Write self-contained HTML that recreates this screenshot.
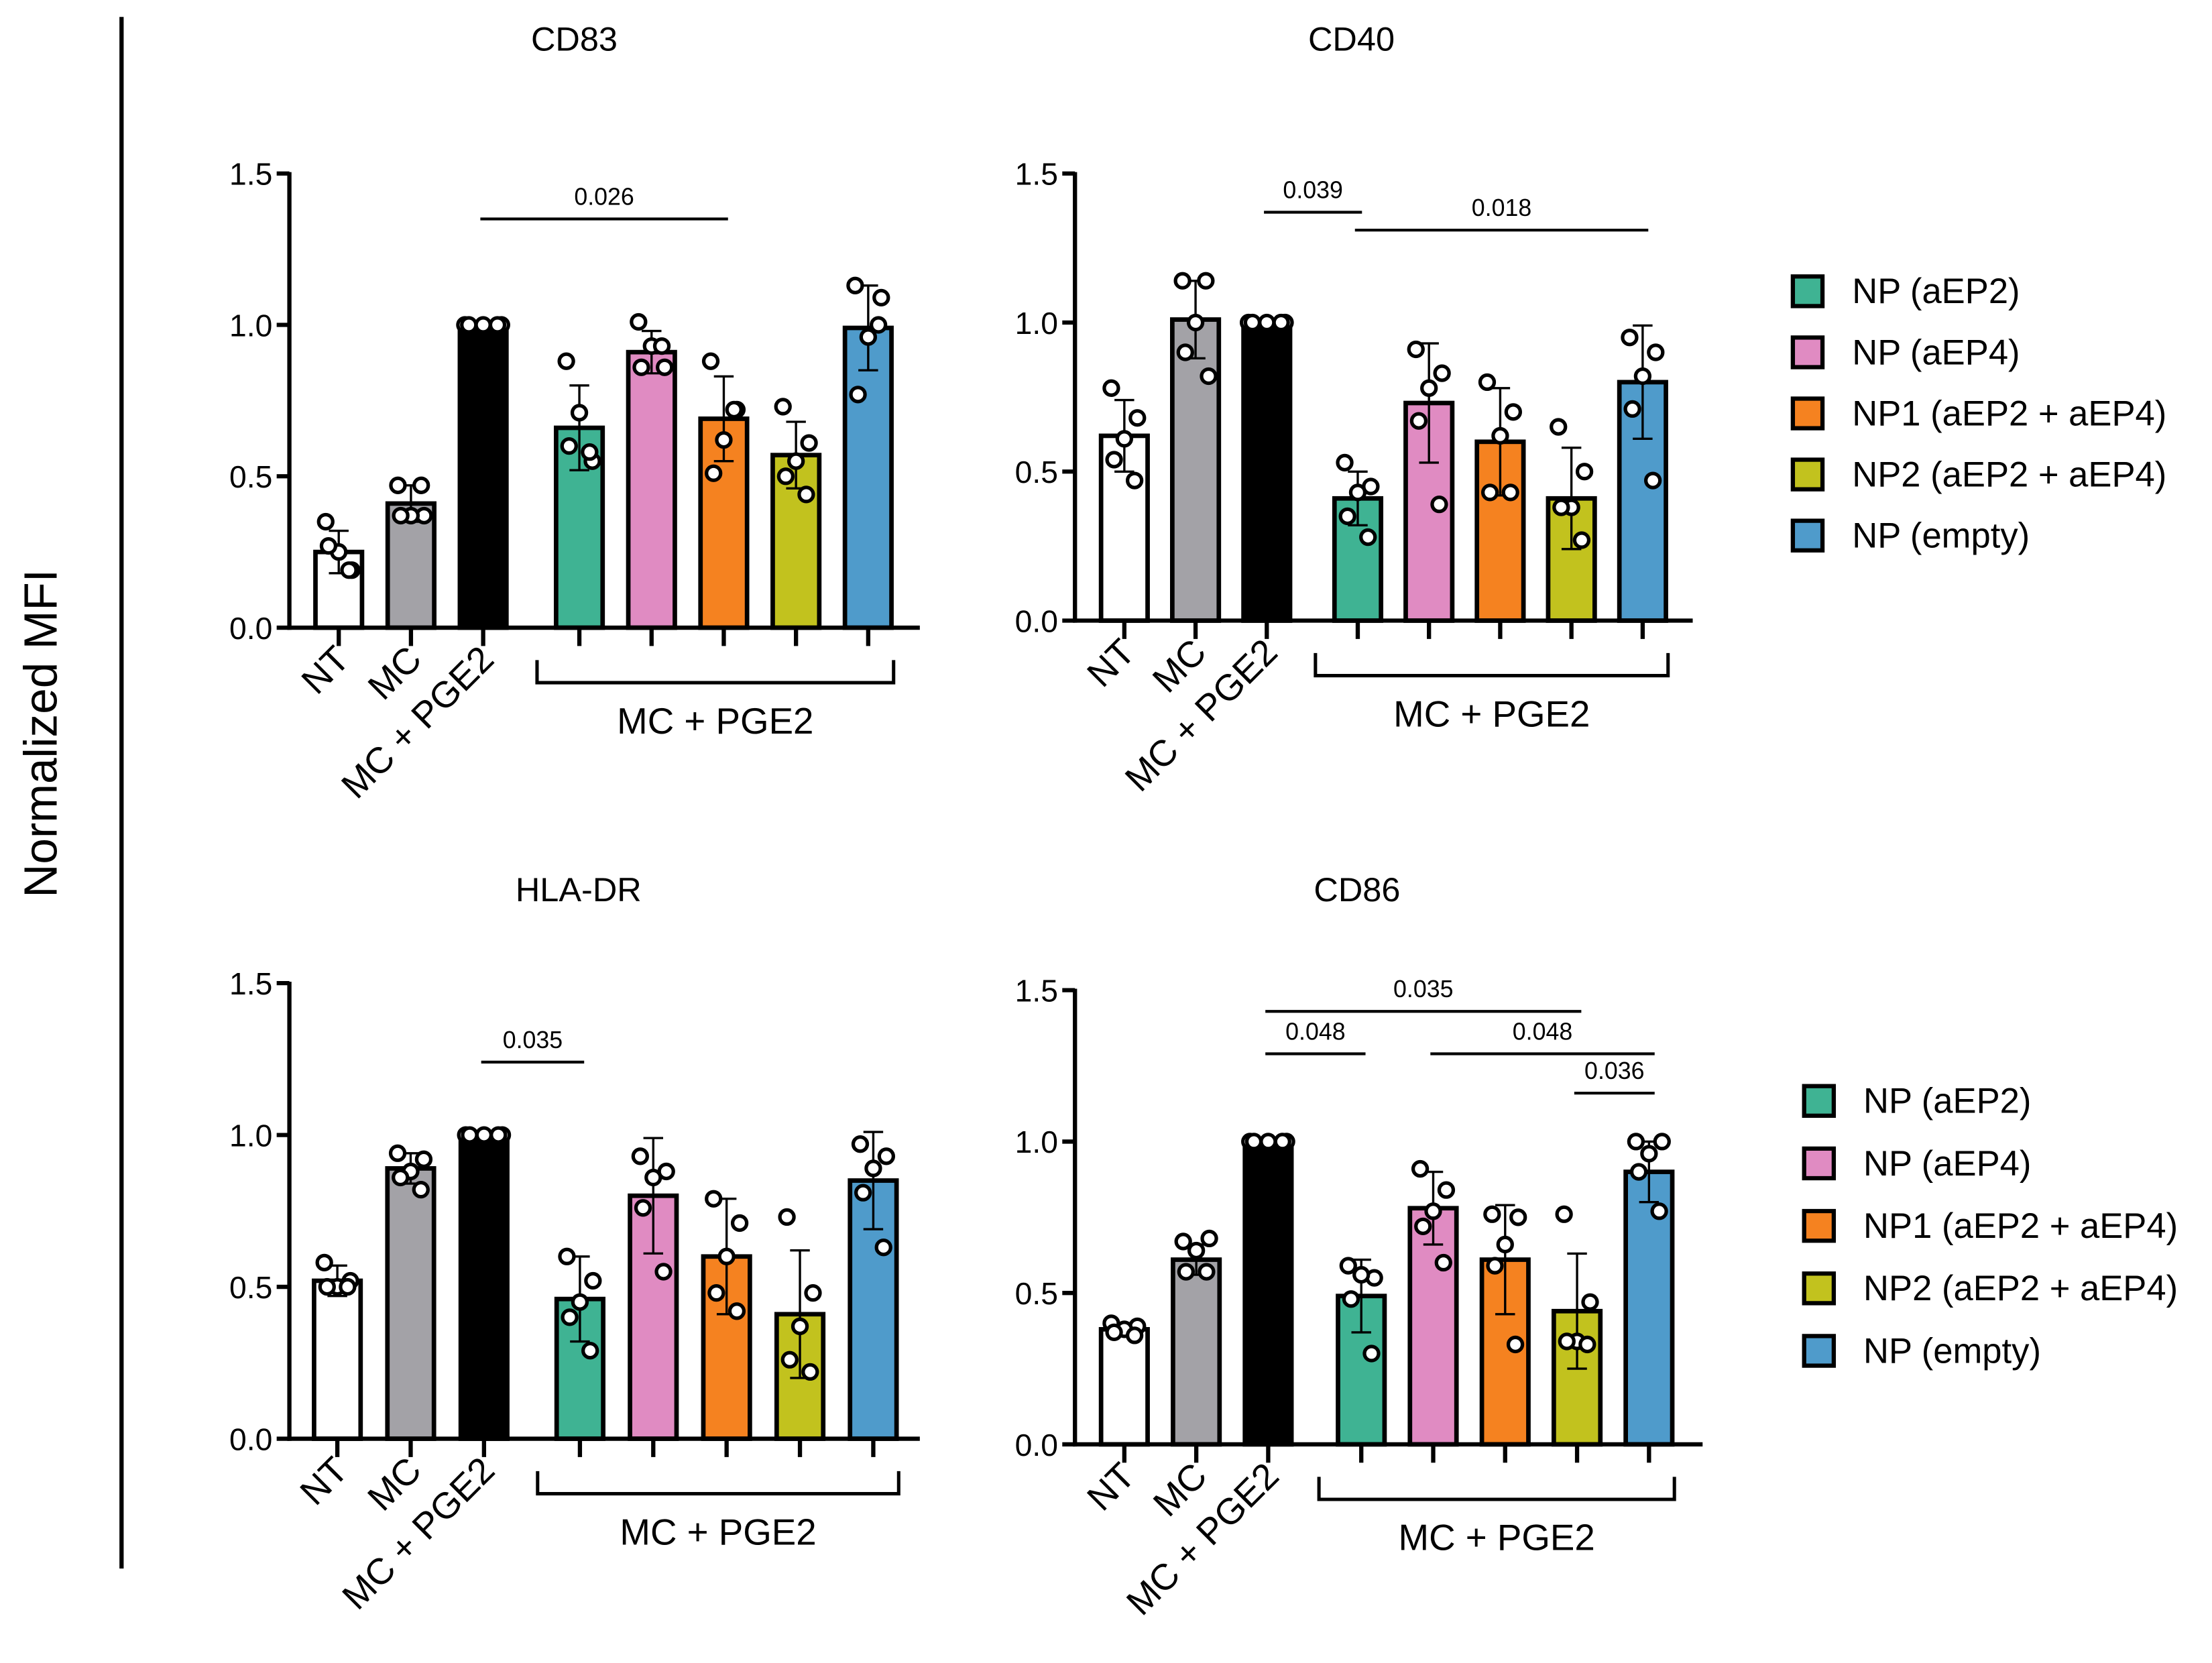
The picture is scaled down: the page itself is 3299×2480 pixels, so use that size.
<!DOCTYPE html>
<html><head><meta charset="utf-8"><style>
html,body{margin:0;padding:0;background:#fff}
svg{display:block;font-family:"Liberation Sans",Arial,sans-serif}
</style></head><body>
<svg id="fig" width="3299" height="2480" viewBox="0 0 1568 1179" xmlns="http://www.w3.org/2000/svg">
<rect x="0" y="0" width="1568" height="1179" fill="#fff"/>
<line x1="86" y1="12" x2="86" y2="1112" stroke="#000" stroke-width="3"/>
<text transform="translate(40,520) rotate(-90)" text-anchor="middle" font-size="33">Normalized MFI</text>
</svg>
<script>
const categories=["NT","MC","MC + PGE2","NP (aEP2)","NP (aEP4)","NP1 (aEP2 + aEP4)","NP2 (aEP2 + aEP4)","NP (empty)"];
const cd83Means=[0.25,0.41,1.0,0.66,0.91,0.69,0.57,0.99];
const cd83Err=[0.07,0.06,0,0.14,0.07,0.14,0.11,0.14];
const cd83Pts=[[0.35,0.19,0.25,0.27,0.19],[0.47,0.37,0.37,0.37,0.47],[1,1,1,1,1],[0.88,0.55,0.71,0.60,0.58],[1.01,0.86,0.93,0.86,0.93],[0.88,0.72,0.62,0.51,0.72],[0.73,0.61,0.55,0.50,0.44],[1.13,1.09,0.96,0.77,1.0]];
const cd40Means=[0.62,1.01,1.0,0.41,0.73,0.60,0.41,0.80];
const cd40Err=[0.12,0.13,0,0.09,0.20,0.18,0.17,0.19];
const cd40Pts=[[0.78,0.68,0.61,0.54,0.47],[1.14,0.82,1.0,0.90,1.14],[1,1,1,1,1],[0.53,0.45,0.43,0.35,0.28],[0.91,0.83,0.78,0.67,0.39],[0.80,0.70,0.62,0.43,0.43],[0.65,0.50,0.38,0.38,0.27],[0.95,0.90,0.82,0.71,0.47]];
const hlaMeans=[0.52,0.89,1.0,0.46,0.80,0.60,0.41,0.85];
const hlaErr=[0.05,0.05,0,0.14,0.19,0.19,0.21,0.16];
const hlaPts=[[0.58,0.52,0.50,0.50,0.50],[0.94,0.92,0.88,0.86,0.82],[1,1,1,1,1],[0.60,0.52,0.45,0.40,0.29],[0.93,0.88,0.86,0.76,0.55],[0.79,0.71,0.60,0.48,0.42],[0.73,0.48,0.37,0.26,0.22],[0.97,0.93,0.89,0.81,0.63]];
const cd86Means=[0.38,0.61,1.0,0.49,0.78,0.61,0.44,0.90];
const cd86Err=[0.02,0.05,0,0.12,0.12,0.18,0.19,0.10];
const cd86Pts=[[0.40,0.39,0.38,0.37,0.36],[0.67,0.68,0.64,0.57,0.57],[1,1,1,1,1],[0.59,0.55,0.56,0.48,0.30],[0.91,0.84,0.77,0.72,0.60],[0.76,0.75,0.66,0.59,0.33],[0.76,0.47,0.34,0.34,0.33],[1.0,1.0,0.96,0.90,0.77]];
const yTicks=[0,0.5,1.0,1.5];
const yTickLabels=["0.0","0.5","1.0","1.5"];
const cd83Sig=[[2,5,1.35,"0.026"]];
const cd40Sig=[[2,3,1.37,"0.039"],[3,7,1.31,"0.018"]];
const hlaSig=[[2,3,1.24,"0.035"]];
const cd86Sig=[[2,6,1.43,"0.035"],[2,3,1.29,"0.048"],[4,7,1.29,"0.048"],[6,7,1.16,"0.036"]];
const legendLabels=["NP (aEP2)","NP (aEP4)","NP1 (aEP2 + aEP4)","NP2 (aEP2 + aEP4)","NP (empty)"];

const colors=["#ffffff","#a3a2a7","#000000","#3fb393","#e08bc2","#f58220","#c2c21e","#4f9bcb"];
const jit=[-0.28,0.28,0,-0.22,0.22];
const NS="http://www.w3.org/2000/svg";
const svg=document.getElementById('fig');
function mk(tag,attrs,parent,txt){const e=document.createElementNS(NS,tag);for(const k in attrs)e.setAttribute(k,attrs[k]);if(txt!==undefined)e.textContent=txt;(parent||svg).appendChild(e);return e;}

function panel(cfg){
  const g=mk('g',{});
  
  
  const ax=cfg.ax, y0=cfg.y0, y1=cfg.y1;
  const ys=v=>y0-(y0-y1)*v/1.5;
  const xs=i=>cfg.x0+i*cfg.step+(i>=3?cfg.gap:0);
  const bw=cfg.bw;
  const t=mk('text',{x:cfg.tx,y:cfg.ty,'text-anchor':'middle','font-size':24},g,cfg.title);
  
  
  cfg.means.forEach((m,i)=>{
    const r=mk('rect',{x:xs(i)-bw/2,y:ys(m),width:bw,height:y0-ys(m),fill:colors[i],stroke:'#000','stroke-width':3.2},g);
    
    
  });
  cfg.means.forEach((m,i)=>{
    const e=cfg.err[i]; if(!e)return;
    const eg=mk('g',{stroke:'#000','stroke-width':1.6},g);
    
    
    mk('line',{x1:xs(i),x2:xs(i),y1:ys(m-e),y2:ys(m+e)},eg);
    mk('line',{x1:xs(i)-7,x2:xs(i)+7,y1:ys(m+e),y2:ys(m+e)},eg);
    mk('line',{x1:xs(i)-7,x2:xs(i)+7,y1:ys(m-e),y2:ys(m-e)},eg);
  });
  cfg.pts.forEach((arr,i)=>{
    arr.forEach((v,j)=>{
      const c=mk('circle',{cx:xs(i)+jit[j]*bw*(i===2?1.4:1),cy:ys(v),r:5,fill:'#fff',stroke:'#000','stroke-width':2.5},g);
      
      
    });
  });
  const yaxis=mk('line',{x1:ax,x2:ax,y1:y1-1,y2:y0+1.5,stroke:'#000','stroke-width':3},g);
  
  
  const xaxis=mk('line',{x1:ax-1.5,x2:cfg.axEnd,y1:y0,y2:y0,stroke:'#000','stroke-width':3},g);
  
  
  yTicks.forEach((v,k)=>{
    mk('line',{x1:ax-9,x2:ax,y1:ys(v),y2:ys(v),stroke:'#000','stroke-width':3},g);
    const tl=mk('text',{x:ax-12,y:ys(v)+8,'text-anchor':'end','font-size':22},g,yTickLabels[k]);
    
    
  });
  categories.forEach((c,i)=>{
    mk('line',{x1:xs(i),x2:xs(i),y1:y0,y2:y0+13,stroke:'#000','stroke-width':3},g);
  });
  for(let i=0;i<3;i++){
    const lx=xs(i)+9, ly=y0+24;
    const tl=mk('text',{transform:`translate(${lx},${ly}) rotate(-45)`,'text-anchor':'end','font-size':26},g,categories[i]);
    
    
  }
  const bx1=xs(3)-30, bx2=xs(7)+18, by=y0+23;
  const br=mk('path',{d:`M${bx1},${by} V${by+16} H${bx2} V${by}`,fill:'none',stroke:'#000','stroke-width':2.4},g);
  
  
  const bl=mk('text',{x:(bx1+bx2)/2,y:by+52,'text-anchor':'middle','font-size':26},g,'MC + PGE2');
  
  
  cfg.sig.forEach(s=>{
    const a=xs(s[0])-2,b=xs(s[1])+(s[1]===7?4:3),yy=ys(s[2]);
    const sl=mk('line',{x1:a,x2:b,y1:yy,y2:yy,stroke:'#000','stroke-width':2},g);
    
    
    const st=mk('text',{x:(a+b)/2,y:yy-10,'text-anchor':'middle','font-size':17},g,s[3]);
    
    
  });
}
panel({name:'cd83-panel',title:'CD83',tx:407,ty:36,ax:205,y0:445,y1:123,x0:240,step:51.2,gap:17,bw:33,axEnd:652,means:cd83Means,err:cd83Err,pts:cd83Pts,sig:cd83Sig});
panel({name:'cd40-panel',title:'CD40',tx:958,ty:36,ax:762,y0:440,y1:123,x0:797,step:50.5,gap:14,bw:33,axEnd:1200,means:cd40Means,err:cd40Err,pts:cd40Pts,sig:cd40Sig});
panel({name:'hla-dr-panel',title:'HLA-DR',tx:410,ty:639,ax:205,y0:1020,y1:697,x0:239,step:52,gap:16,bw:33,axEnd:652,means:hlaMeans,err:hlaErr,pts:hlaPts,sig:hlaSig});
panel({name:'cd86-panel',title:'CD86',tx:962,ty:639,ax:762,y0:1024,y1:702,x0:797,step:51,gap:15,bw:33,axEnd:1207,means:cd86Means,err:cd86Err,pts:cd86Pts,sig:cd86Sig});

function legend(x,ys0,dy,name){
  const g=mk('g',{});
  
  
  legendLabels.forEach((l,i)=>{
    const y=ys0+i*dy;
    const e=mk('g',{},g);
    
    
    mk('rect',{x:x,y:y-10,width:21,height:21,fill:colors[i+3],stroke:'#000','stroke-width':3},e);
    mk('text',{x:x+42,y:y+9,'font-size':25},e,l);
  });
}
legend(1271,206,43.3,'legend-top');
legend(1279,780,44.3,'legend-bottom');
</script>
</body></html>
